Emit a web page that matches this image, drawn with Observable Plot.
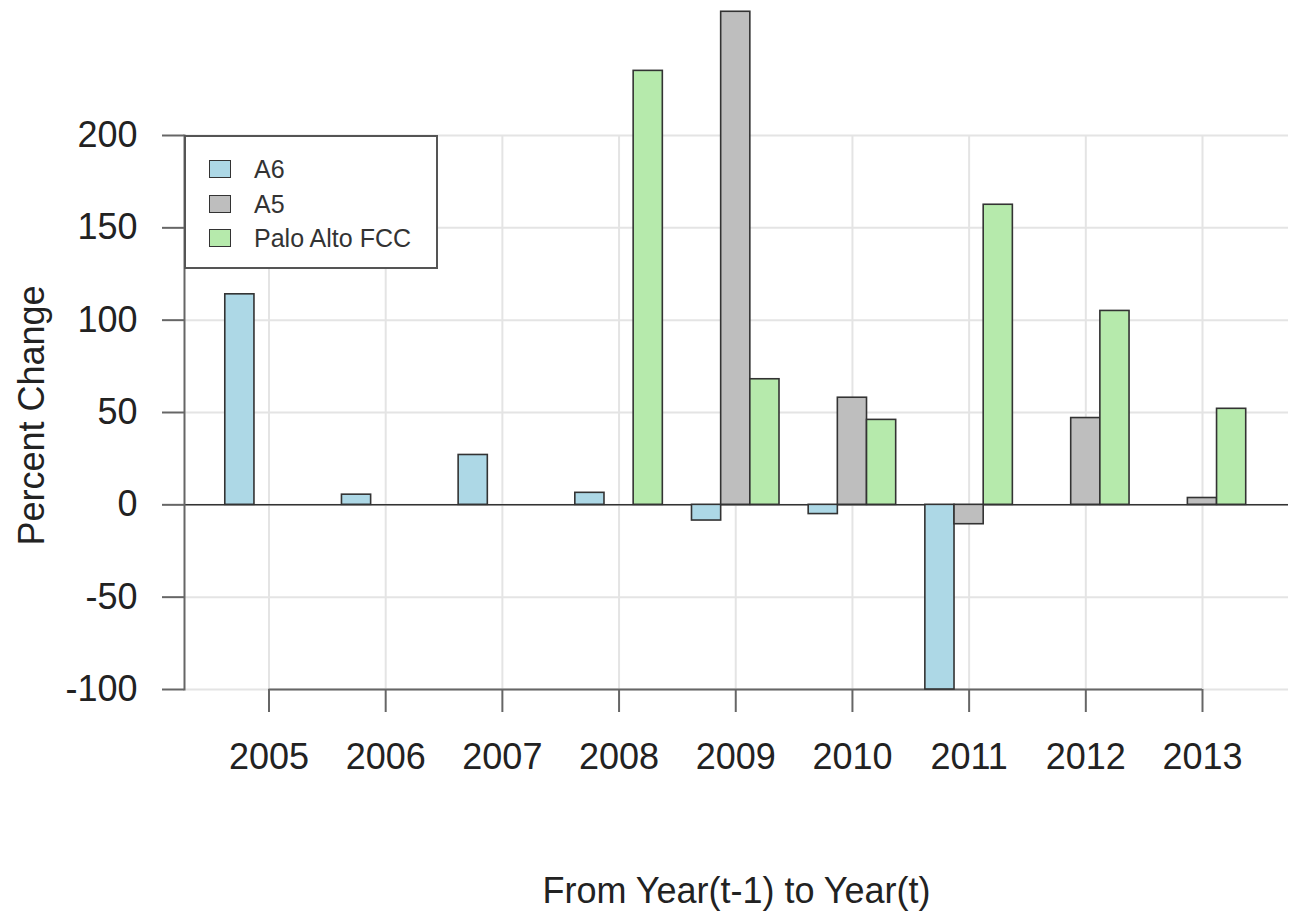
<!DOCTYPE html>
<html>
<head>
<meta charset="utf-8">
<script src="https://cdn.jsdelivr.net/npm/d3@7"></script>
<script src="https://cdn.jsdelivr.net/npm/@observablehq/plot@0.6"></script>
<style>
  html, body { margin: 0; padding: 0; background: #fff; }
  #wrap { position: relative; width: 1297px; height: 913px; overflow: hidden;
          font-family: "Liberation Sans", Arial, Helvetica, sans-serif; background: #fff; }
  #wrap svg { position: absolute; left: 0; top: 0; max-width: none; }
  .strip { position: absolute; left: 0; }
  #legend { position: absolute; left: 184px; top: 135px; width: 254px; height: 134px;
            box-sizing: border-box; border: 2px solid #555; background: #fff; }
  .lg-sw { position: absolute; left: 23px; width: 22px; height: 18px; box-sizing: border-box;
           border: 1.5px solid #333; }
  .lg-tx { position: absolute; left: 68px; font-size: 25px; color: #333; white-space: nowrap; line-height: 34px; }
</style>
</head>
<body>
<div id="wrap">
  <div class="strip" style="top:0;height:305px;width:4px;background:#dde2dd"></div>
  <div class="strip" style="top:305px;height:245px;width:9px;background:#5f7867"></div>
  <div class="strip" style="top:550px;height:363px;width:5px;background:#5f7867"></div>
</div>
<script>
// ---- data ----
const years = ["2005", "2006", "2007", "2008", "2009", "2010", "2011", "2012", "2013"];
const seriesNames = ["A6", "A5", "Palo Alto FCC"];
const seriesColors = ["#add8e6", "#bebebe", "#b6eaac"];
const a6Values  = [114, 5.5, 27, 6.5, -8.5, -5, -100, null, null];
const a5Values  = [null, null, null, null, 267, 58, -10.5, 47, 3.7];
const fccValues = [null, null, null, 235, 68, 46, 162.5, 105, 52];
const yTicks = [-100, -50, 0, 50, 100, 150, 200];
const xLabel = "From Year(t-1) to Year(t)";
const yLabel = "Percent Change";

const seriesValues = [a6Values, a5Values, fccValues];
const rows = [];
years.forEach((yr, i) => {
  seriesNames.forEach((s, j) => {
    const v = seriesValues[j][i];
    if (v !== null) rows.push({year: yr, series: s, value: v});
  });
});

// ---- layout ----
const W = 1297, H = 913;
const frameL = 184, frameR = 1288, frameT = 135, frameB = 689;
const font = "'Liberation Sans', Arial, Helvetica, sans-serif";
const axisGray = "#666", textCol = "#222", gridCol = "#e4e4e4";
const yMin = yTicks[0], yMax = yTicks[yTicks.length - 1];
const firstYear = years[0], lastYear = years[years.length - 1];

const bg = Plot.plot({
  width: W, height: H,
  marginLeft: frameL, marginRight: W - frameR, marginTop: frameT, marginBottom: H - frameB,
  x: {type: "point", domain: years, range: [268.5, 1202], padding: 0, round: false},
  y: {domain: [yMin, yMax]},
  style: {fontFamily: font, fontSize: "36px", color: textCol, background: "white", overflow: "visible"},
  marks: [
    Plot.ruleY(yTicks, {stroke: gridCol, strokeWidth: 2}),
    Plot.ruleX(years, {y1: () => yMin, y2: () => yMax, stroke: gridCol, strokeWidth: 2}),
    Plot.ruleY([0], {stroke: "#333", strokeWidth: 1.5}),
    Plot.ruleY([yMin], {x1: () => firstYear, x2: () => lastYear, stroke: axisGray, strokeWidth: 2}),
    Plot.frame({anchor: "left", stroke: axisGray, strokeWidth: 2}),
    Plot.axisY({ticks: yTicks, tickFormat: d => String(d), tickSize: 22, tickPadding: 25,
                stroke: axisGray, strokeWidth: 2, fill: textCol, label: null}),
    Plot.axisX({tickSize: 23, tickPadding: 31, stroke: axisGray, strokeWidth: 2, fill: textCol, label: null}),
    Plot.text([xLabel], {text: d => d, frameAnchor: "bottom", textAnchor: "middle", lineAnchor: "middle",
                         dy: 202, fill: textCol}),
    Plot.text([yLabel], {text: d => d, frameAnchor: "left", textAnchor: "middle", lineAnchor: "middle",
                         rotate: -90, dx: -152.5, dy: 3, fill: textCol})
  ]
});

const bars = Plot.plot({
  width: W, height: H,
  marginLeft: 210.2, marginRight: W - 1260.3, marginTop: frameT, marginBottom: H - frameB,
  fx: {domain: years, paddingInner: 0.25, paddingOuter: 0.125, axis: null, round: false, label: null},
  x: {domain: seriesNames, padding: 0, axis: null, round: false},
  y: {domain: [yMin, yMax], axis: null},
  color: {domain: seriesNames, range: seriesColors},
  style: {background: "transparent", overflow: "visible"},
  marks: [
    Plot.barY(rows, {fx: "year", x: "series", y: "value", fill: "series", stroke: "#333", strokeWidth: 1.6})
  ]
});

const wrap = document.getElementById("wrap");
wrap.appendChild(bg);
wrap.appendChild(bars);

// legend
const legend = document.createElement("div");
legend.id = "legend";
const rowCenters = [34, 68.5, 102.6];
seriesNames.forEach((s, j) => {
  const sw = document.createElement("div");
  sw.className = "lg-sw";
  sw.style.background = seriesColors[j];
  sw.style.top = (rowCenters[j] - 9 - 2) + "px";
  legend.appendChild(sw);
  const tx = document.createElement("div");
  tx.className = "lg-tx";
  tx.textContent = s;
  tx.style.top = (rowCenters[j] - 17 - 2) + "px";
  legend.appendChild(tx);
});
wrap.appendChild(legend);
</script>
</body>
</html>
